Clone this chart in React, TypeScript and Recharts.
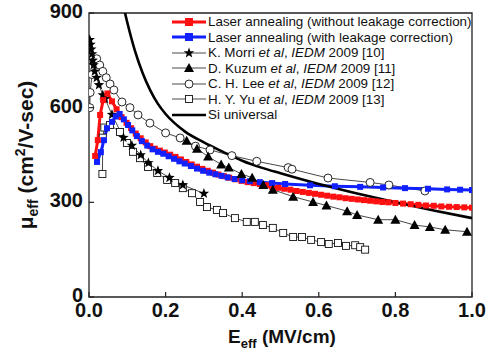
import React from "react";
import { LineChart, Line, XAxis, YAxis, ReferenceArea } from "recharts";

const FONT = "Arial, 'Liberation Sans', Helvetica, sans-serif";

const xTicks = [0, 0.2, 0.4, 0.6, 0.8, 1.0];
const yTicks = [0, 300, 600, 900];

// [E_eff (MV/cm), mu_eff (cm2/V-sec)]
const laserNoCorr: [number, number][] = [
  [0.016, 447], [0.023, 497], [0.029, 577], [0.037, 624], [0.048, 645], [0.06, 620],
  [0.072, 595], [0.085, 570], [0.098, 552], [0.11, 535], [0.122, 518], [0.135, 503],
  [0.148, 490], [0.16, 478], [0.172, 470], [0.185, 464], [0.198, 458], [0.212, 451],
  [0.226, 444], [0.24, 436], [0.254, 428], [0.268, 420], [0.282, 413], [0.296, 406],
  [0.31, 400], [0.324, 394], [0.338, 388], [0.352, 383], [0.366, 378], [0.382, 373],
  [0.398, 368], [0.414, 364], [0.43, 361], [0.446, 358], [0.462, 354], [0.478, 350],
  [0.494, 346], [0.51, 343], [0.526, 340], [0.542, 336], [0.558, 333], [0.574, 330],
  [0.59, 327], [0.606, 324], [0.622, 321], [0.638, 318], [0.654, 316], [0.67, 313],
  [0.686, 311], [0.702, 309], [0.718, 307], [0.734, 305], [0.75, 303], [0.766, 301],
  [0.782, 300], [0.8, 298], [0.82, 296], [0.84, 294], [0.86, 292], [0.88, 290],
  [0.9, 289], [0.92, 287], [0.94, 286], [0.96, 285], [0.98, 284], [1.0, 283],
];

const laserCorr: [number, number][] = [
  [0.021, 428], [0.031, 459], [0.039, 497], [0.047, 535], [0.06, 555], [0.07, 572],
  [0.08, 580], [0.091, 563], [0.102, 545], [0.113, 528], [0.125, 510], [0.138, 494],
  [0.152, 480], [0.166, 468], [0.18, 460], [0.194, 454], [0.208, 446], [0.222, 438],
  [0.236, 430], [0.25, 423], [0.266, 415], [0.282, 407], [0.298, 400], [0.314, 394],
  [0.33, 389], [0.346, 384], [0.362, 379], [0.38, 374], [0.4, 370], [0.42, 367],
  [0.446, 364], [0.478, 361], [0.512, 358], [0.577, 354], [0.642, 351], [0.708, 349],
  [0.768, 347], [0.825, 345], [0.885, 343], [0.935, 341], [0.969, 340], [1.0, 339],
];

const morri: [number, number][] = [
  [0.002, 815], [0.004, 800], [0.006, 785], [0.008, 770], [0.01, 750], [0.012, 735],
  [0.015, 715], [0.02, 695], [0.026, 672], [0.036, 640], [0.042, 628], [0.06, 578],
  [0.09, 505], [0.112, 480], [0.135, 450], [0.155, 425], [0.18, 400], [0.21, 378],
  [0.245, 355], [0.3, 328],
];

const kuzum: [number, number][] = [
  [0.255, 495], [0.282, 470], [0.311, 445], [0.345, 420], [0.365, 410], [0.398, 390],
  [0.426, 378], [0.455, 355], [0.48, 340], [0.533, 318], [0.585, 301], [0.62, 290],
  [0.674, 272], [0.7, 260], [0.755, 245], [0.8, 245], [0.85, 228], [0.89, 222],
  [0.93, 213], [0.987, 207],
];

const lee: [number, number][] = [
  [0.002, 600], [0.003, 648], [0.008, 705], [0.014, 745], [0.02, 755], [0.028, 735],
  [0.036, 715], [0.045, 695], [0.055, 675], [0.065, 656], [0.086, 618], [0.107, 600],
  [0.128, 577], [0.159, 551], [0.2, 520], [0.238, 504], [0.278, 478], [0.316, 466],
  [0.373, 448], [0.438, 430], [0.52, 410], [0.53, 405], [0.624, 377], [0.734, 363],
  [0.783, 355], [0.877, 336],
];

const yu: [number, number][] = [
  [0.035, 390], [0.036, 505], [0.04, 537], [0.055, 545], [0.081, 523], [0.099, 488],
  [0.115, 460], [0.133, 440], [0.154, 412], [0.178, 393], [0.204, 371], [0.225, 361],
  [0.245, 345], [0.269, 329], [0.29, 301], [0.308, 285], [0.334, 276], [0.35, 266],
  [0.381, 250], [0.412, 238], [0.433, 238], [0.454, 228], [0.48, 219], [0.507, 203],
  [0.533, 190], [0.556, 190], [0.58, 181], [0.606, 174], [0.626, 168], [0.65, 171],
  [0.671, 162], [0.695, 164], [0.708, 158], [0.721, 150],
];

const siUniversal: [number, number][] = [
  [0.094, 900], [0.1, 870], [0.12, 780], [0.14, 710], [0.16, 655], [0.18, 612],
  [0.2, 580], [0.25, 525], [0.3, 490], [0.35, 460], [0.4, 432], [0.45, 410],
  [0.5, 392], [0.6, 358], [0.7, 328], [0.8, 300], [0.9, 274], [1.0, 250],
];

const pts = (arr: [number, number][]) => arr.map(([e, mu]) => ({ e, mu }));

const RED = "#ff1010";
const BLUE = "#1020ff";
const THIN = "#333";

const FilledSquare = (color: string, s: number) => (p: any) =>
  p.cx == null ? <g key={p.index} /> : (
    <rect key={p.index} x={p.cx - s / 2} y={p.cy - s / 2} width={s} height={s} fill={color} />
  );

const OpenSquare = (p: any) =>
  p.cx == null ? <g key={p.index} /> : (
    <rect key={p.index} x={p.cx - 3.5} y={p.cy - 3.5} width={7} height={7} fill="#fff" stroke="#111" strokeWidth={0.9} />
  );

const OpenCircle = (p: any) =>
  p.cx == null ? <g key={p.index} /> : (
    <circle key={p.index} cx={p.cx} cy={p.cy} r={4} fill="#fff" stroke="#111" strokeWidth={0.9} />
  );

const Triangle = (p: any) =>
  p.cx == null ? <g key={p.index} /> : (
    <path key={p.index} d={`M${p.cx},${p.cy - 5} L${p.cx + 5},${p.cy + 4} L${p.cx - 5},${p.cy + 4} Z`} fill="#000" />
  );

const starPath = (cx: number, cy: number, ro: number, ri: number) => {
  let d = "";
  for (let i = 0; i < 10; i++) {
    const r = i % 2 === 0 ? ro : ri;
    const a = -Math.PI / 2 + (i * Math.PI) / 5;
    d += `${i === 0 ? "M" : "L"}${cx + r * Math.cos(a)},${cy + r * Math.sin(a)} `;
  }
  return d + "Z";
};

const Star = (p: any) =>
  p.cx == null ? <g key={p.index} /> : <path key={p.index} d={starPath(p.cx, p.cy, 5.5, 2.3)} fill="#000" />;

const XTick = (props: any) => {
  const { x, y, payload } = props;
  return (
    <g>
      <line x1={x} x2={x} y1={y} y2={y - 5} stroke="#222" strokeWidth={1.2} />
      <text x={x} y={y + 20} textAnchor="middle" fontSize={20} fontWeight="bold" fontFamily={FONT} fill="#111">
        {Number(payload.value).toFixed(1)}
      </text>
    </g>
  );
};

const YTick = (props: any) => {
  const { x, y, payload } = props;
  return (
    <g>
      <line x1={x} x2={x + 5} y1={y} y2={y} stroke="#222" strokeWidth={1.2} />
      <text x={x - 6} y={y + 5} textAnchor="end" fontSize={20} fontWeight="bold" fontFamily={FONT} fill="#111">
        {payload.value}
      </text>
    </g>
  );
};

type Seg = [string, boolean];
const legendItems: { id: string; parts: Seg[] }[] = [
  { id: "red", parts: [["Laser annealing (without leakage correction)", false]] },
  { id: "blue", parts: [["Laser annealing (with leakage correction)", false]] },
  { id: "star", parts: [["K. Morri ", false], ["et al", true], [", ", false], ["IEDM", true], [" 2009 [10]", false]] },
  { id: "tri", parts: [["D. Kuzum ", false], ["et al", true], [", ", false], ["IEDM", true], [" 2009 [11]", false]] },
  { id: "circ", parts: [["C. H. Lee ", false], ["et al", true], [", ", false], ["IEDM", true], [" 2009 [12]", false]] },
  { id: "sq", parts: [["H. Y. Yu ", false], ["et al", true], [", ", false], ["IEDM", true], [" 2009 [13]", false]] },
  { id: "si", parts: [["Si universal", false]] },
];

const LegendIcon = ({ id }: { id: string }) => {
  const m = { cx: 17, cy: 6, index: 0 };
  let line = <line x1={0} x2={34} y1={6} y2={6} stroke={THIN} strokeWidth={0.9} />;
  let mark: any = null;
  if (id === "red" || id === "blue") {
    const c = id === "red" ? RED : BLUE;
    line = <line x1={0} x2={34} y1={6} y2={6} stroke={c} strokeWidth={3} />;
    mark = FilledSquare(c, 8)(m);
  } else if (id === "star") mark = Star(m);
  else if (id === "tri") mark = Triangle(m);
  else if (id === "circ") mark = OpenCircle(m);
  else if (id === "sq") mark = OpenSquare(m);
  else line = <line x1={0} x2={34} y1={6} y2={6} stroke="#000" strokeWidth={2.6} />;
  return (
    <svg width={34} height={12} style={{ display: "block" }}>
      {line}
      {mark}
    </svg>
  );
};

export default function App() {
  return (
    <div style={{ position: "absolute", left: 0, top: 0, width: 493, height: 350, background: "#fff" }}>
      <LineChart width={493} height={350} margin={{ top: 13, right: 21, bottom: 0, left: 0 }}>
        <XAxis
          dataKey="e"
          type="number"
          domain={[0, 1]}
          ticks={xTicks}
          height={53}
          axisLine={false}
          tickLine={false}
          tickSize={0}
          tickMargin={0}
          tick={XTick}
          interval={0}
          allowDataOverflow
          label={{
            content: () => (
              <text x={282} y={343} textAnchor="middle" fontFamily={FONT} fontWeight="bold" fontSize={19} fill="#111">
                E<tspan fontSize={13} dy={5}>eff</tspan>
                <tspan dy={-5}> (MV/cm)</tspan>
              </text>
            ),
          }}
        />
        <YAxis
          dataKey="mu"
          type="number"
          domain={[0, 900]}
          ticks={yTicks}
          width={89}
          axisLine={false}
          tickLine={false}
          tickSize={0}
          tickMargin={0}
          tick={YTick}
          interval={0}
          allowDataOverflow
          label={{
            content: () => (
              <text
                x={155}
                y={0}
                transform="translate(33,310) rotate(-90)"
                textAnchor="middle"
                fontFamily={FONT}
                fontWeight="bold"
                fontSize={21}
                fill="#111"
              >
                μ<tspan fontSize={14} dy={5}>eff</tspan>
                <tspan dy={-5}> (cm</tspan>
                <tspan fontSize={14} dy={-8}>2</tspan>
                <tspan dy={8}>/V-sec)</tspan>
              </text>
            ),
          }}
        />
        <Line data={pts(lee)} dataKey="mu" type="linear" stroke={THIN} strokeWidth={0.9} dot={OpenCircle} activeDot={false} isAnimationActive={false} />
        <Line data={pts(yu)} dataKey="mu" type="linear" stroke={THIN} strokeWidth={0.9} dot={OpenSquare} activeDot={false} isAnimationActive={false} />
        <Line data={pts(morri)} dataKey="mu" type="linear" stroke={THIN} strokeWidth={0.9} dot={Star} activeDot={false} isAnimationActive={false} />
        <Line data={pts(laserNoCorr)} dataKey="mu" type="linear" stroke={RED} strokeWidth={3} dot={FilledSquare(RED, 6)} activeDot={false} isAnimationActive={false} />
        <Line data={pts(laserCorr)} dataKey="mu" type="linear" stroke={BLUE} strokeWidth={3} dot={FilledSquare(BLUE, 6)} activeDot={false} isAnimationActive={false} />
        <Line data={pts(kuzum)} dataKey="mu" type="linear" stroke={THIN} strokeWidth={0.9} dot={Triangle} activeDot={false} isAnimationActive={false} />
        <Line data={pts(siUniversal)} dataKey="mu" type="monotone" stroke="#000" strokeWidth={2.6} dot={false} activeDot={false} isAnimationActive={false} />
        <ReferenceArea x1={0} x2={1} y1={0} y2={900} fill="none" stroke="#222" strokeWidth={1.3} ifOverflow="visible" />
      </LineChart>
      <div style={{ position: "absolute", left: 172, top: 14, fontFamily: FONT, fontSize: 13.4, color: "#111" }}>
        {legendItems.map((it) => (
          <div key={it.id} style={{ display: "flex", alignItems: "center", height: 15.5, whiteSpace: "nowrap" }}>
            <LegendIcon id={it.id} />
            <span style={{ marginLeft: 2 }}>
              {it.parts.map(([t, ital], i) => (
                <span key={i} style={{ fontStyle: ital ? "italic" : "normal" }}>
                  {t}
                </span>
              ))}
            </span>
          </div>
        ))}
      </div>
    </div>
  );
}
